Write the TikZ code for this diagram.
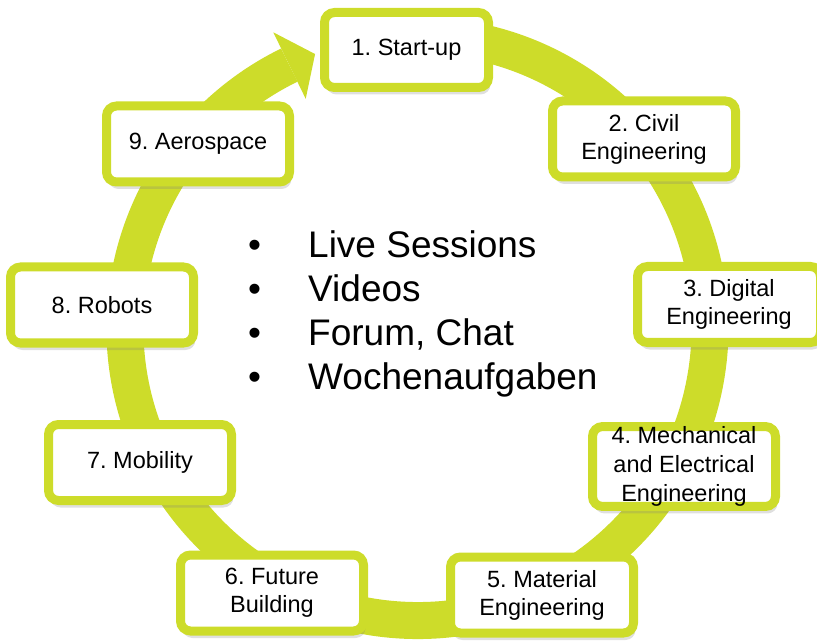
\documentclass[tikz,border=0pt]{standalone}
\usepackage{fontspec}
\setmainfont{Liberation Sans}
\usetikzlibrary{calc,shadows}
\definecolor{ringgreen}{RGB}{205,220,42}
\frenchspacing
\begin{document}
\begin{tikzpicture}[x=1pt,y=1pt,
  stage/.style={rectangle,rounded corners=10pt,draw=ringgreen,line width=9pt,fill=white,
    minimum width=183pt,minimum height=76pt,inner sep=0pt,align=center,
    font=\fontsize{23.5}{28}\selectfont,
    drop shadow={shadow xshift=2pt,shadow yshift=-7pt,opacity=0.25}},
  ring/.style={draw=ringgreen,line width=37pt}]
\useasboundingbox (0,0) rectangle (817,641);
\coordinate (c) at (417.5,313);
\draw [ring] ($(c)+(80:292.5)$) arc [start angle=80,end angle=-244,radius=292.5];
\fill [ringgreen] ($(c)+(116:255)$) -- ($(c)+(110.5:292.5)$) -- ($(c)+(116:329)$) -- cycle;
\node (start) [stage,minimum width=164pt,minimum height=75pt] at (406.5,591) {1. Start-up};
\node (civil) [stage] at (644,502) {2. Civil\\Engineering};
\node (digital) [stage] at (729,336.5) {3. Digital\\Engineering};
\node (mech) [stage,font=\fontsize{23.5}{29}\selectfont] at (684,174.5) {4. Mechanical\\and Electrical\\Engineering};
\node (material) [stage] at (542,46) {5. Material\\Engineering};
\node (future) [stage] at (272,48) {6. Future\\Building};
\node (mobility) [stage] at (140,178.5) {7. Mobility};
\node (robots) [stage] at (102,336) {8. Robots};
\node (aero) [stage] at (198,497) {9. Aerospace};
\node (topics) [anchor=west,inner sep=0pt,align=left,font=\fontsize{37}{44}\selectfont] at (248,326.6)
  {\makebox[60pt][l]{\textbullet}Live Sessions\\\makebox[60pt][l]{\textbullet}Videos\\
   \makebox[60pt][l]{\textbullet}Forum, Chat\\\makebox[60pt][l]{\textbullet}Wochenaufgaben};
\end{tikzpicture}
\end{document}
